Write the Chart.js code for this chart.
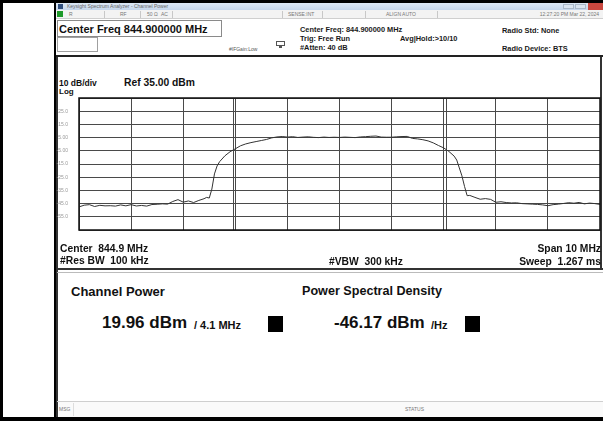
<!DOCTYPE html>
<html>
<head>
<meta charset="utf-8">
<script src="https://cdn.jsdelivr.net/npm/chart.js@4.4.1/dist/chart.umd.min.js"></script>
<style>
  html, body { margin: 0; padding: 0; background: #fff; }
  body { width: 603px; height: 421px; position: relative; overflow: hidden;
         font-family: "Liberation Sans", Arial, sans-serif; color: #111; }
  .a { position: absolute; white-space: nowrap; line-height: 1; }
  .b { font-weight: bold; }
  .tiny { font-size: 5px; color: #777; }
  .hdr { font-size: 7.4px; font-weight: bold; color: #1a1a1a; }
  .lbl { font-size: 10.3px; font-weight: bold; color: #111; }
  .sep { position: absolute; background: #c8c8c8; width: 1px; }
  .sq { position: absolute; background: #000; }
</style>
</head>
<body>
  <!-- outer table cell borders -->
  <div class="a" style="left:0;top:0;width:603px;height:3px;background:#000"></div>
  <div class="a" style="left:0;top:0;width:3px;height:421px;background:#000"></div>
  <div class="a" style="left:0;top:417px;width:603px;height:4px;background:#000"></div>
  <div class="a" style="left:54px;top:0;width:2px;height:421px;background:#000"></div>

  <!-- window title bar -->
  <div class="a" style="left:56px;top:3px;width:547px;height:7px;background:linear-gradient(#dde8f5,#c4d5ea)"></div>
  <div class="a" style="left:58px;top:4px;width:5px;height:5px;background:#2e4d7c"></div>
  <div class="a tiny" style="left:67px;top:4px;color:#666">Keysight Spectrum Analyzer - Channel Power</div>
  <div class="a" style="left:563px;top:4px;width:11px;height:5px;background:#d9e3ef;border:1px solid #aab8c8;box-sizing:border-box"></div>
  <div class="a" style="left:575px;top:4px;width:11px;height:5px;background:#d9e3ef;border:1px solid #aab8c8;box-sizing:border-box"></div>
  <div class="a" style="left:588px;top:3px;width:15px;height:7px;background:#c9483f"></div>

  <!-- status row -->
  <div class="a" style="left:56px;top:10px;width:547px;height:8px;background:#f3f3f3;border-bottom:1px solid #cfcfcf"></div>
  <div class="a" style="left:57px;top:11px;width:6px;height:6px;background:#1f9a2a"></div>
  <div class="a tiny" style="left:69px;top:12px">R</div>
  <div class="sep" style="left:104px;top:11px;height:7px"></div>
  <div class="a tiny" style="left:120px;top:12px">RF</div>
  <div class="sep" style="left:140px;top:11px;height:7px"></div>
  <div class="a tiny" style="left:147px;top:12px">50 Ω</div>
  <div class="a tiny" style="left:161px;top:12px">AC</div>
  <div class="sep" style="left:172px;top:11px;height:7px"></div>
  <div class="sep" style="left:282px;top:11px;height:7px"></div>
  <div class="a tiny" style="left:288px;top:12px">SENSE:INT</div>
  <div class="sep" style="left:322px;top:11px;height:7px"></div>
  <div class="sep" style="left:365px;top:11px;height:7px"></div>
  <div class="a tiny" style="left:386px;top:12px">ALIGN AUTO</div>
  <div class="sep" style="left:437px;top:11px;height:7px"></div>
  <div class="a tiny" style="right:4px;top:12px">12:27:20 PM Mar 22, 2024</div>

  <!-- header -->
  <div class="a" style="left:57px;top:20px;width:165px;height:17px;border:1px solid #8a8a8a;box-sizing:border-box"></div>
  <div class="a b" style="left:59px;top:24px;font-size:11px">Center Freq 844.900000 MHz</div>
  <div class="a" style="left:57px;top:37px;width:41px;height:15px;border:1px solid #a0a0a0;box-sizing:border-box"></div>
  <div class="a tiny" style="left:229px;top:47px;color:#555">#IFGain:Low</div>
  <div class="a" style="left:276px;top:41px;width:9px;height:5px;border:1px solid #555;box-sizing:border-box"></div>
  <div class="a" style="left:279px;top:46px;width:3px;height:2px;background:#555"></div>
  <div class="a hdr" style="left:300px;top:26px">Center Freq: 844.900000 MHz</div>
  <div class="a hdr" style="left:300px;top:35px">Trig: Free Run</div>
  <div class="a hdr" style="left:300px;top:44px">#Atten: 40 dB</div>
  <div class="a hdr" style="left:400px;top:35px">Avg|Hold:&gt;10/10</div>
  <div class="a hdr" style="left:502px;top:27px">Radio Std: None</div>
  <div class="a hdr" style="left:502px;top:45px">Radio Device: BTS</div>
  <div class="a" style="left:56px;top:55px;width:547px;height:2px;background:#222"></div>

  <!-- graph panel -->
  <div class="a" style="left:56px;top:57px;width:2px;height:360px;background:#333"></div>
  <div class="a" style="left:600px;top:57px;width:2px;height:213px;background:#333"></div>
  <div class="a b" style="left:59px;top:79px;font-size:8.5px">10 dB/div</div>
  <div class="a b" style="left:124px;top:77.5px;font-size:10.3px">Ref 35.00 dBm</div>
  <div class="a b" style="left:59px;top:88px;font-size:8px">Log</div>
  <canvas id="spectrum" width="553" height="160" style="position:absolute;left:50px;top:84px"></canvas>
  <div class="a lbl" style="left:60px;top:244px">Center&nbsp; 844.9 MHz</div>
  <div class="a lbl" style="left:60px;top:256px">#Res BW&nbsp; 100 kHz</div>
  <div class="a lbl" style="left:329px;top:257px">#VBW&nbsp; 300 kHz</div>
  <div class="a lbl" style="right:2px;top:244px">Span 10 MHz</div>
  <div class="a lbl" style="right:2px;top:257px">Sweep&nbsp; 1.267 ms</div>
  <div class="a" style="left:57px;top:268px;width:546px;height:2px;background:#333"></div>
  <div class="a" style="left:57px;top:272px;width:546px;height:1px;background:#bbb"></div>

  <!-- results panel -->
  <div class="a b" style="left:71px;top:284.5px;font-size:13px">Channel Power</div>
  <div class="a b" style="left:302px;top:284.5px;font-size:12.6px">Power Spectral Density</div>
  <div class="a b" style="left:102px;top:314px;font-size:17px">19.96 dBm</div>
  <div class="a b" style="left:194px;top:319.5px;font-size:11px">/ 4.1 MHz</div>
  <div class="sq" style="left:268px;top:316px;width:15px;height:16px"></div>
  <div class="a b" style="left:334px;top:314px;font-size:17px">-46.17 dBm</div>
  <div class="a b" style="left:431px;top:319.5px;font-size:11px">/Hz</div>
  <div class="sq" style="left:465px;top:316px;width:15px;height:16px"></div>

  <!-- bottom status bar -->
  <div class="a" style="left:57px;top:401px;width:546px;height:1px;background:#cfcfcf"></div>
  <div class="a" style="left:59px;top:402px;width:544px;height:15px;background:#fafafa"></div>
  <div class="a tiny" style="left:59px;top:407px">MSG</div>
  <div class="sep" style="left:73px;top:403px;height:13px;background:#ddd"></div>
  <div class="a tiny" style="left:405px;top:407px">STATUS</div>

<script>
// trace: frequency (MHz) and level (dBm)
const freqMHz = [
  839.9, 840.0, 840.1, 840.2, 840.3, 840.4, 840.5, 840.6, 840.7, 840.8,
  840.9, 841.0, 841.1, 841.2, 841.3, 841.4, 841.5, 841.6, 841.7, 841.8,
  841.9, 842.0, 842.1, 842.2, 842.3, 842.35, 842.4, 842.45, 842.5, 842.55,
  842.6, 842.7, 842.8, 842.9, 843.0, 843.1, 843.2, 843.3, 843.4, 843.5,
  843.6, 843.7, 843.8, 843.9, 844.0, 844.1, 844.2, 844.3, 844.4, 844.5,
  844.6, 844.7, 844.8, 844.9, 845.0, 845.1, 845.2, 845.3, 845.4, 845.5,
  845.6, 845.7, 845.8, 845.9, 846.0, 846.1, 846.2, 846.3, 846.4, 846.5,
  846.6, 846.7, 846.8, 846.9, 847.0, 847.1, 847.15, 847.2, 847.25, 847.3,
  847.35, 847.4, 847.5, 847.6, 847.7, 847.8, 847.9, 848.0, 848.1, 848.2,
  848.3, 848.4, 848.5, 848.6, 848.7, 848.8, 848.9, 849.0, 849.1, 849.2,
  849.3, 849.4, 849.5, 849.6, 849.7, 849.8, 849.9
]
const traceDbm = [
  -47.5, -46.2, -45.8, -47.2, -46.3, -46.7, -46.6, -46.9, -46.0, -46.7,
  -45.8, -46.8, -46.4, -46.9, -45.7, -45.5, -45.2, -45.4, -43.4, -42.0,
  -43.9, -43.0, -44.2, -42.6, -41.3, -40.3, -40.8, -34.0, -22.5, -16.5,
  -13.2, -8.8, -5.7, -3.5, -1.2, 0.2, 1.2, 2.0, 2.8, 3.6,
  4.8, 5.5, 5.8, 5.4, 5.7, 5.1, 5.4, 5.6, 5.2, 5.0,
  5.4, 5.1, 5.3, 5.1, 5.4, 5.2, 5.0, 5.5, 5.7, 6.0,
  6.2, 5.4, 5.3, 5.3, 5.6, 5.8, 5.9, 4.4, 4.0, 3.4,
  2.5, 1.0, -1.0, -2.8, -5.5, -9.0, -12.0, -18.0, -24.0, -32.0,
  -39.0, -38.8, -40.3, -41.7, -41.2, -41.8, -44.0, -43.6, -44.2, -44.5,
  -44.4, -45.0, -45.2, -45.4, -45.6, -46.0, -46.6, -45.8, -45.4, -44.9,
  -44.3, -44.7, -44.1, -45.2, -44.6, -45.0, -45.6
]

// graticule
const xGridMHz = [839.9, 840.9, 841.9, 842.9, 843.9, 844.9, 845.9, 846.9, 847.9, 848.9, 849.9]
const yGridDbm = [35, 25, 15, 5, -5, -15, -25, -35, -45, -55, -65]
const yTickLabels = ["", "25.0", "15.0", "5.00", "-5.00", "-15.0", "-25.0", "-35.0", "-45.0", "-55.0", ""]
// integration bandwidth (4.1 MHz) edges
const channelEdgesMHz = [842.85, 846.95]

const graticule = {
  id: 'graticule',
  beforeDatasetsDraw: (chart) => {
    const {ctx, chartArea} = chart
    const x = chart.scales.x
    ctx.save()
    ctx.strokeStyle = '#4a4a4a'
    ctx.lineWidth = 1
    channelEdgesMHz.forEach((f) => {
      const px = Math.round(x.getPixelForValue(f)) + 0.5
      ctx.beginPath()
      ctx.moveTo(px, chartArea.top)
      ctx.lineTo(px, chartArea.bottom)
      ctx.stroke()
    })
    ctx.restore()
  },
  afterDraw: (chart) => {
    const {ctx, chartArea} = chart
    ctx.save()
    ctx.strokeStyle = '#111'
    ctx.lineWidth = 1.5
    ctx.strokeRect(chartArea.left, chartArea.top, chartArea.right - chartArea.left, chartArea.bottom - chartArea.top)
    ctx.restore()
  }
}

new Chart(document.getElementById('spectrum'), {
  type: 'line',
  data: {
    datasets: [{
      data: freqMHz.map((f, i) => ({x: f, y: traceDbm[i]})),
      borderColor: '#333',
      borderWidth: 1,
      pointRadius: 0,
      tension: 0
    }]
  },
  options: {
    responsive: false,
    animation: false,
    layout: { padding: {top: 5, right: 3, bottom: 3, left: 0} },
    plugins: { legend: {display: false}, tooltip: {enabled: false} },
    scales: {
      x: {
        type: 'linear', min: 839.9, max: 849.9,
        afterBuildTicks: (s) => { s.ticks = xGridMHz.map((v) => ({value: v})) },
        afterFit: (s) => { s.height = 0 },
        ticks: {display: false},
        grid: {color: '#4a4a4a', drawTicks: false},
        border: {display: false}
      },
      y: {
        min: -65, max: 35,
        afterBuildTicks: (s) => { s.ticks = yGridDbm.map((v) => ({value: v})) },
        afterFit: (s) => { s.width = 29 },
        ticks: {
          callback: (v) => yTickLabels[yGridDbm.indexOf(v)],
          color: '#999',
          font: {size: 5, family: '"Liberation Sans", Arial'},
          padding: 11
        },
        grid: {color: '#4a4a4a', drawTicks: false},
        border: {display: false}
      }
    }
  },
  plugins: [graticule]
})
</script>
</body>
</html>
